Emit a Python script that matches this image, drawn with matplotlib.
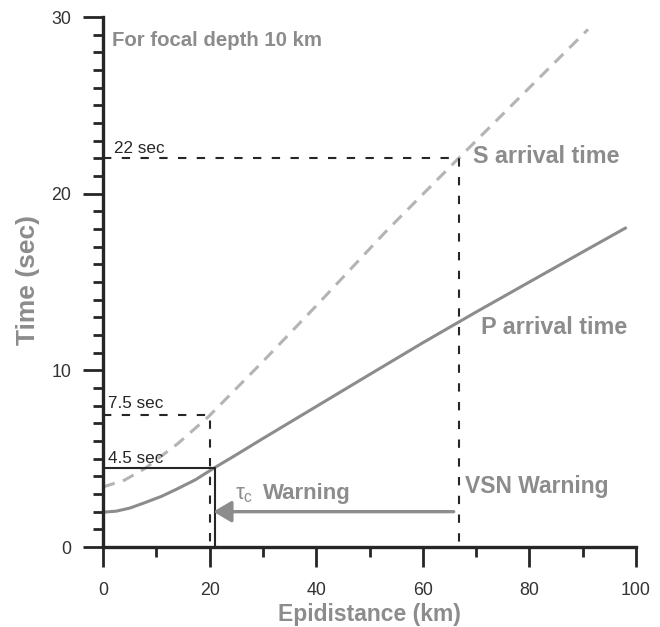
import matplotlib
matplotlib.use("Agg")
import matplotlib.pyplot as plt
from matplotlib.ticker import MultipleLocator

plt.rcParams['font.family'] = ['Liberation Sans', 'DejaVu Sans']
plt.rcParams['mathtext.fontset'] = 'custom'
plt.rcParams['mathtext.rm'] = 'Liberation Sans'
plt.rcParams['mathtext.it'] = 'Liberation Sans'

# Data
p_dist = [0, 2.5, 5, 7.5, 11, 14, 17.3, 21, 25, 30, 40, 50, 60, 70, 80, 90, 98]
p_time = [1.97, 2.03, 2.2, 2.47, 2.87, 3.3, 3.8, 4.5, 5.22, 6.14, 7.95, 9.76,
          11.56, 13.3, 15.0, 16.7, 18.05]
s_dist = [0, 4, 7.9, 14.1, 19.8, 30, 40, 53.2, 66.7, 80, 91]
s_time = [3.4, 3.78, 4.45, 5.87, 7.38, 10.5, 13.65, 17.9, 22.0, 26.0, 29.3]

tau_dist, tau_time = 21, 4.5
early_dist, early_time = 20, 7.5
vsn_dist, vsn_time = 66.7, 22
arrow_time = 2.0
arrow_start = 65.8

x_ticks = [0, 20, 40, 60, 80, 100]
y_ticks = [0, 10, 20, 30]

GRAY = '#8c8c8c'
LGRAY = '#b4b4b4'
DARK = '#262626'

fig = plt.figure(figsize=(6.6, 6.27), dpi=100)
ax = fig.add_axes([103/660, 1-547/627, (636-103)/660, (547-17)/627])

ax.plot(p_dist, p_time, color=GRAY, lw=2.2, solid_joinstyle='round')
ax.plot(s_dist, s_time, color=LGRAY, lw=2.2, dashes=(4, 2.8))

# reference lines
ax.plot([0, vsn_dist, vsn_dist], [vsn_time, vsn_time, 0], color=DARK, lw=1.5, dashes=(4, 5))
ax.plot([0, early_dist, early_dist], [early_time, early_time, 0], color=DARK, lw=1.5, dashes=(4, 5))
ax.plot([0, tau_dist, tau_dist], [tau_time, tau_time, 0], color=DARK, lw=1.5)

ax.annotate('', xy=(tau_dist - 0.3, arrow_time), xytext=(arrow_start, arrow_time),
            arrowprops=dict(arrowstyle='-|>,head_length=1.1,head_width=0.65',
                            color=GRAY, lw=2.4, shrinkA=0, shrinkB=0))

ax.text(1.7, 28.66, 'For focal depth 10 km', color=GRAY, fontsize=14.7,
        fontweight='bold', va='center', ha='left')
ax.text(2.0, 22.3, '22 sec', color=DARK, fontsize=12.3, va='baseline', ha='left')
ax.text(0.95, 7.85, '7.5 sec', color=DARK, fontsize=12.3, va='baseline', ha='left')
ax.text(0.95, 4.75, '4.5 sec', color=DARK, fontsize=12.3, va='baseline', ha='left')
ax.text(69.4, 21.73, 'S arrival time', color=GRAY, fontsize=16.8,
        fontweight='bold', va='baseline', ha='left')
ax.text(70.9, 12.05, 'P arrival time', color=GRAY, fontsize=16.8,
        fontweight='bold', va='baseline', ha='left')
ax.text(67.9, 3.06, 'VSN Warning', color=GRAY, fontsize=16.5,
        fontweight='bold', va='baseline', ha='left')
ax.text(24.8, 2.72, r'$\tau_c$', color=GRAY, fontsize=16, va='baseline', ha='left')
ax.text(30.0, 2.72, 'Warning', color=GRAY, fontsize=16,
        fontweight='bold', va='baseline', ha='left')

ax.set_xlim(0, 100)
ax.set_ylim(0, 30)
ax.set_xticks(x_ticks)
ax.set_yticks(y_ticks)
ax.xaxis.set_minor_locator(MultipleLocator(10))
ax.yaxis.set_minor_locator(MultipleLocator(1))
for s in ['top', 'right']:
    ax.spines[s].set_visible(False)
for s in ['left', 'bottom']:
    ax.spines[s].set_linewidth(2.4)
    ax.spines[s].set_color(DARK)
ax.tick_params(which='major', direction='out', length=14.5, width=2.0,
               color=DARK, labelcolor='#333333', labelsize=12.8)
ax.tick_params(axis='x', which='major', pad=11)
ax.tick_params(axis='y', which='major', pad=8.5)
ax.tick_params(which='minor', direction='out', length=7.5, width=2.0, color=DARK)

fig.text(369/660, (627-621)/627, 'Epidistance (km)', color=GRAY, fontsize=16.5,
         fontweight='bold', va='baseline', ha='center')
fig.text(28/660, (627-280)/627, 'Time (sec)', color=GRAY, fontsize=19,
         fontweight='bold', va='center', ha='center', rotation=90)

fig.savefig('out.png', dpi=100)
